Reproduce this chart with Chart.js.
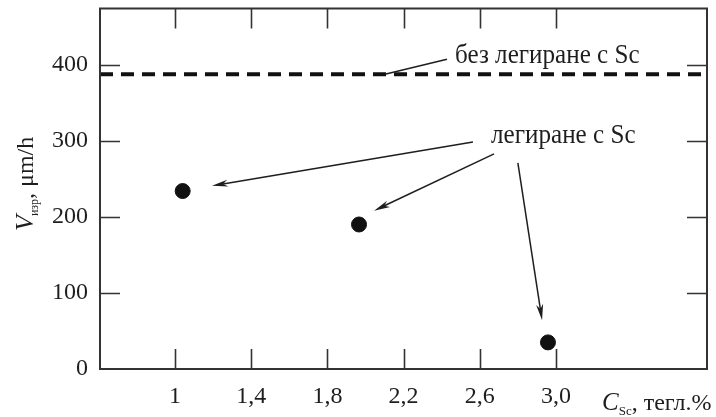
<!DOCTYPE html>
<html>
<head>
<meta charset="utf-8">
<script src="https://cdn.jsdelivr.net/npm/chart.js@4.4.1/dist/chart.umd.min.js"></script>
<style>
  html, body { margin: 0; padding: 0; background: #fff; }
  #wrap { width: 716px; height: 417px; position: relative; }
</style>
</head>
<body>
<div id="wrap"><canvas id="c"></canvas></div>
<script>
// ---- data ----
const xTicks = [1, 1.4, 1.8, 2.2, 2.6, 3.0];
const xTickLabels = ['1', '1,4', '1,8', '2,2', '2,6', '3,0'];
const yTicks = [0, 100, 200, 300, 400];
const yTickLabels = ['0', '100', '200', '300', '400'];
const xRange = [0.606, 3.793];
const yRange = [0, 474];
const scContent = [1.04, 1.966, 2.958];      // C_Sc, wt.%
const vAlloyed = [234, 190, 35];             // V, µm/h (alloyed with Sc)
const vBaseline = 387.5;                     // V, µm/h (without Sc)

const labelNoSc = 'без легиране с Sc';
const labelSc = 'легиране с Sc';
const yTitleMain = 'V';
const yTitleSub = 'изр';
const yTitleRest = ', μm/h';
const xTitleMain = 'C';
const xTitleSub = 'Sc';
const xTitleRest = ', тегл.%';

// annotation anchors, in data coordinates
const notes = {
  noScText: { x: 2.470, y: 402 },
  noScLeader: [{ x: 2.428, y: 407.2 }, { x: 2.102, y: 387.5 }],
  scText: { x: 2.659, y: 297 },
  scArrows: [
    [{ x: 2.564, y: 298.5 }, { x: 1.194, y: 240.9 }],
    [{ x: 2.675, y: 282.8 }, { x: 2.045, y: 208.2 }],
    [{ x: 2.800, y: 271.0 }, { x: 2.927, y: 64.2 }]
  ]
};

const SERIF = '"Liberation Serif", "Times New Roman", serif';
const INK = '#1e1e1e';

const framePlugin = {
  id: 'frame',
  afterDraw(chart) {
    const ctx = chart.ctx;
    const a = chart.chartArea;
    const xs = chart.scales.x, ys = chart.scales.y;
    const px = v => xs.getPixelForValue(v);
    const py = v => ys.getPixelForValue(v);
    ctx.save();
    ctx.strokeStyle = '#333';
    ctx.lineWidth = 2;
    ctx.strokeRect(a.left, a.top, a.right - a.left, a.bottom - a.top);
    ctx.lineWidth = 1.6;
    ctx.beginPath();
    xTicks.forEach(t => {
      const x = Math.round(px(t)) + 0.5;
      ctx.moveTo(x, a.bottom); ctx.lineTo(x, a.bottom - 20);
      ctx.moveTo(x, a.top); ctx.lineTo(x, a.top + 20);
    });
    yTicks.forEach(t => {
      if (t === yRange[0]) return;
      const y = Math.round(py(t)) + 0.5;
      ctx.moveTo(a.left, y); ctx.lineTo(a.left + 20, y);
      ctx.moveTo(a.right, y); ctx.lineTo(a.right - 20, y);
    });
    ctx.stroke();

    // scaled text helper
    function txt(s, x, y, size, sx, italic) {
      ctx.save();
      ctx.translate(x, y);
      ctx.scale(sx, 1);
      ctx.font = (italic ? 'italic ' : '') + size + 'px ' + SERIF;
      ctx.fillStyle = INK;
      ctx.textBaseline = 'alphabetic';
      ctx.textAlign = 'left';
      ctx.fillText(s, 0, 0);
      ctx.restore();
    }
    txt(labelNoSc, px(notes.noScText.x), py(notes.noScText.y), 27, 0.93, false);
    txt(labelSc, px(notes.scText.x), py(notes.scText.y), 27, 0.93, false);

    ctx.strokeStyle = INK;
    ctx.fillStyle = INK;
    ctx.lineWidth = 1.5;
    const L = notes.noScLeader;
    ctx.beginPath();
    ctx.moveTo(px(L[0].x), py(L[0].y));
    ctx.lineTo(px(L[1].x), py(L[1].y));
    ctx.stroke();

    notes.scArrows.forEach(([s, e]) => {
      const x0 = px(s.x), y0 = py(s.y), x1 = px(e.x), y1 = py(e.y);
      const ang = Math.atan2(y1 - y0, x1 - x0);
      const hl = 16, hw = 3.5;
      ctx.beginPath();
      ctx.moveTo(x0, y0);
      ctx.lineTo(x1 - Math.cos(ang) * hl * 0.6, y1 - Math.sin(ang) * hl * 0.6);
      ctx.stroke();
      ctx.beginPath();
      ctx.moveTo(x1, y1);
      ctx.lineTo(x1 - Math.cos(ang) * hl + Math.sin(ang) * hw, y1 - Math.sin(ang) * hl - Math.cos(ang) * hw);
      ctx.lineTo(x1 - Math.cos(ang) * hl * 0.7, y1 - Math.sin(ang) * hl * 0.7);
      ctx.lineTo(x1 - Math.cos(ang) * hl - Math.sin(ang) * hw, y1 - Math.sin(ang) * hl + Math.cos(ang) * hw);
      ctx.closePath();
      ctx.fill();
    });

    // Y axis title (rotated)
    ctx.save();
    ctx.translate(a.left - 67, a.bottom - 138);
    ctx.rotate(-Math.PI / 2);
    ctx.fillStyle = INK;
    ctx.textBaseline = 'alphabetic';
    ctx.font = 'italic 26px ' + SERIF;
    ctx.fillText(yTitleMain, 0, 0);
    let w = ctx.measureText(yTitleMain).width;
    ctx.font = '12px ' + SERIF;
    ctx.fillText(yTitleSub, w - 1, 5);
    w += ctx.measureText(yTitleSub).width - 1;
    ctx.font = '24px ' + SERIF;
    ctx.fillText(yTitleRest, w, 0);
    ctx.restore();

    // X axis title
    ctx.save();
    ctx.translate(a.right - 105, a.bottom + 41);
    ctx.fillStyle = INK;
    ctx.textBaseline = 'alphabetic';
    ctx.font = 'italic 25px ' + SERIF;
    ctx.fillText(xTitleMain, 0, 0);
    let w2 = ctx.measureText(xTitleMain).width;
    ctx.font = '13px ' + SERIF;
    ctx.fillText(xTitleSub, w2, 5);
    w2 += ctx.measureText(xTitleSub).width;
    ctx.font = '24px ' + SERIF;
    ctx.fillText(xTitleRest, w2, 0);
    ctx.restore();

    ctx.restore();
  }
};

new Chart(document.getElementById('c'), {
  type: 'scatter',
  data: {
    datasets: [
      {
        type: 'line',
        data: [{ x: xRange[0], y: vBaseline }, { x: xRange[1], y: vBaseline }],
        borderColor: '#111',
        borderWidth: 4,
        borderDash: [13, 8],
        pointRadius: 0,
        fill: false
      },
      {
        data: scContent.map((x, i) => ({ x, y: vAlloyed[i] })),
        backgroundColor: '#111',
        borderColor: '#111',
        pointRadius: 7.5,
        pointHoverRadius: 7.5
      }
    ]
  },
  options: {
    responsive: true,
    maintainAspectRatio: false,
    animation: false,
    devicePixelRatio: 1,
    layout: { padding: { top: 7, right: 9, left: 0, bottom: 0 } },
    plugins: { legend: { display: false }, tooltip: { enabled: false } },
    scales: {
      x: {
        type: 'linear',
        min: xRange[0], max: xRange[1],
        grid: { display: false, drawTicks: false },
        border: { display: false },
        afterBuildTicks: s => { s.ticks = xTicks.map(v => ({ value: v })); },
        afterFit: s => { s.height = 48; s.paddingLeft = 0; s.paddingRight = 0; },
        ticks: {
          padding: 13,
          color: INK,
          font: { family: SERIF, size: 24 },
          maxRotation: 0,
          autoSkip: false,
          callback: v => xTickLabels[xTicks.indexOf(v)] ?? ''
        }
      },
      y: {
        type: 'linear',
        min: yRange[0], max: yRange[1],
        grid: { display: false, drawTicks: false },
        border: { display: false },
        afterBuildTicks: s => { s.ticks = yTicks.map(v => ({ value: v })); },
        afterFit: s => { s.width = 100; s.paddingTop = 0; s.paddingBottom = 0; },
        ticks: {
          padding: 12,
          color: INK,
          font: { family: SERIF, size: 24 },
          autoSkip: false,
          callback: v => yTickLabels[yTicks.indexOf(v)] ?? ''
        }
      }
    }
  },
  plugins: [framePlugin]
});
</script>
</body>
</html>
